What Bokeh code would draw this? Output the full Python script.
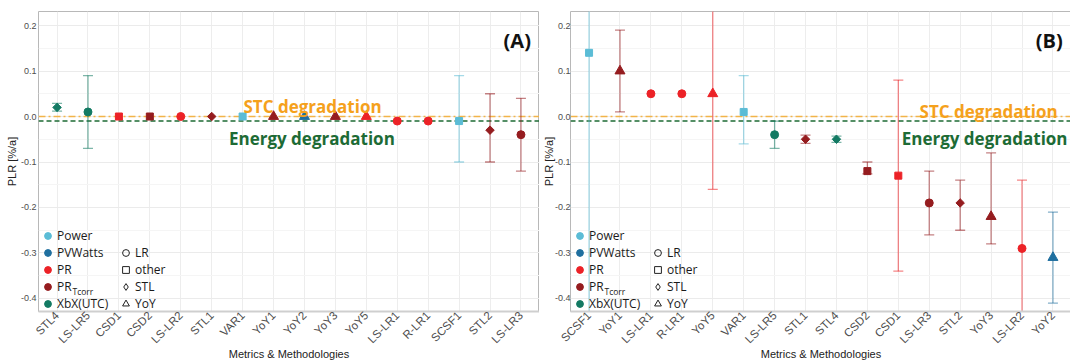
import math
from bokeh.plotting import figure
from bokeh.models import (ColumnDataSource, FactorRange, Range1d, FixedTicker,
                          PrintfTickFormatter, Span, Label, Legend, LegendItem)
from bokeh.layouts import row
from bokeh.embed import file_html
from bokeh.resources import INLINE

NAN = float("nan")

# ---------------- data: panel (A) ----------------
cats_a = ["STL4", "LS-LR5", "CSD1", "CSD2", "LS-LR2", "STL1", "VAR1", "YoY1",
          "YoY2", "YoY3", "YoY5", "LS-LR1", "R-LR1", "SCSF1", "STL2", "LS-LR3"]
metric_a = ["XbX(UTC)", "XbX(UTC)", "PR", "PR_Tcorr", "PR", "PR_Tcorr", "Power", "PR_Tcorr",
            "PVWatts", "PR_Tcorr", "PR", "PR", "PR", "Power", "PR_Tcorr", "PR_Tcorr"]
method_a = ["STL", "LR", "other", "other", "LR", "STL", "other", "YoY",
            "YoY", "YoY", "YoY", "LR", "LR", "other", "STL", "LR"]
plr_a = [0.02, 0.01, 0.0, 0.0, 0.0, 0.0, 0.0, 0.0,
         0.0, 0.0, 0.0, -0.01, -0.01, -0.01, -0.03, -0.04]
low_a = [0.012, -0.07, NAN, NAN, NAN, NAN, NAN, NAN,
         NAN, NAN, NAN, NAN, NAN, -0.10, -0.10, -0.12]
high_a = [0.029, 0.09, NAN, NAN, NAN, NAN, NAN, NAN,
          NAN, NAN, NAN, NAN, NAN, 0.09, 0.05, 0.04]

# ---------------- data: panel (B) ----------------
cats_b = ["SCSF1", "YoY1", "LS-LR1", "R-LR1", "YoY5", "VAR1", "LS-LR5", "STL1",
          "STL4", "CSD2", "CSD1", "LS-LR3", "STL2", "YoY3", "LS-LR2", "YoY2"]
metric_b = ["Power", "PR_Tcorr", "PR", "PR", "PR", "Power", "XbX(UTC)", "PR_Tcorr",
            "XbX(UTC)", "PR_Tcorr", "PR", "PR_Tcorr", "PR_Tcorr", "PR_Tcorr", "PR", "PVWatts"]
method_b = ["other", "YoY", "LR", "LR", "YoY", "other", "LR", "STL",
            "STL", "other", "other", "LR", "STL", "YoY", "LR", "YoY"]
plr_b = [0.14, 0.10, 0.05, 0.05, 0.05, 0.01, -0.04, -0.05,
         -0.05, -0.12, -0.13, -0.19, -0.19, -0.22, -0.29, -0.31]
low_b = [-0.50, 0.01, NAN, NAN, -0.16, -0.06, -0.07, -0.059,
         -0.057, -0.126, -0.34, -0.26, -0.25, -0.28, -0.44, -0.41]
high_b = [0.78, 0.19, NAN, NAN, 0.26, 0.09, -0.01, -0.041,
          -0.043, -0.10, 0.08, -0.12, -0.14, -0.08, -0.14, -0.21]

# ---------------- legend / axis definitions ----------------
metric_names = ["Power", "PVWatts", "PR", "PR_Tcorr", "XbX(UTC)"]
metric_colors = ["#5bbcd6", "#1f6f9f", "#ec2227", "#951c1f", "#137a63"]
method_names = ["LR", "other", "STL", "YoY"]
y_ticks = [-0.4, -0.3, -0.2, -0.1, 0.0, 0.1, 0.2]
y_minor = [-0.35, -0.25, -0.15, -0.05, 0.05, 0.15]
y_title = "PLR [%/a]"
x_title = "Metrics & Methodologies"
stc_level = 0.0
energy_level = -0.01

Y0, Y1 = -0.4286, 0.2308
FRAME_W, FRAME_H, TOP = 501, 300, 11
PX_X = FRAME_W / 16.2          # px per category unit
PX_Y = FRAME_H / (Y1 - Y0)     # px per PLR unit


def sx(px):      # offset from frame left (px) -> synthetic x
    return px / PX_X - 0.1


def vy(py):      # canvas y -> data y
    return Y1 - (py - TOP) / PX_Y


color_of = dict(zip(metric_names, metric_colors))
marker_of = {"LR": "circle", "other": "square", "STL": "square", "YoY": "triangle"}
size_of = {"LR": 8, "other": 7, "STL": 6, "YoY": 10}
angle_of = {"LR": 0.0, "other": 0.0, "STL": math.pi / 4, "YoY": 0.0}
legend_marker_of = {"LR": "circle", "other": "square", "STL": "diamond", "YoY": "triangle"}

TEXT_FONT = "Open Sans"
AXIS_FONT = "Liberation Sans"


def make_panel(cats, metric, method, plr, low, high, tag, stc_pos, en_pos,
               left_border, right_border, ylab_standoff, ytitle_standoff):
    colors = [color_of[m] for m in metric]
    src = ColumnDataSource(dict(
        cat=cats, plr=plr, color=colors,
        marker=[marker_of[m] for m in method],
        size=[size_of[m] for m in method],
        angle=[angle_of[m] for m in method],
    ))
    idx = [i for i in range(len(cats)) if not math.isnan(low[i])]
    esrc = ColumnDataSource(dict(
        cat=[cats[i] for i in idx], lo=[low[i] for i in idx],
        hi=[high[i] for i in idx], color=[colors[i] for i in idx],
    ))

    p = figure(x_range=FactorRange(factors=cats, range_padding=0.1,
                                   range_padding_units="absolute"),
               y_range=Range1d(Y0, Y1),
               frame_width=FRAME_W, frame_height=FRAME_H,
               min_border_left=left_border, min_border_right=right_border,
               min_border_top=TOP, min_border_bottom=51,
               output_backend="svg", toolbar_location=None,
               background_fill_color="white", border_fill_color="white")
    p.outline_line_color = "#b8b8b8"
    p.outline_line_width = 1

    # grids
    p.xgrid.grid_line_color = "#ededed"
    p.ygrid.grid_line_color = "#ebebeb"
    p.ygrid.minor_grid_line_color = "#f5f5f5"

    # y axis
    p.yaxis.ticker = FixedTicker(ticks=y_ticks, minor_ticks=y_minor)
    p.yaxis.formatter = PrintfTickFormatter(format="%.1f")
    p.yaxis.axis_line_color = None
    p.yaxis.major_tick_line_color = None
    p.yaxis.minor_tick_line_color = None
    p.yaxis.major_tick_out = 0
    p.yaxis.minor_tick_out = 0
    p.yaxis.major_label_text_font = AXIS_FONT
    p.yaxis.major_label_text_font_size = "9px"
    p.yaxis.major_label_text_color = "#4d4d4d"
    p.yaxis.major_label_standoff = ylab_standoff
    p.yaxis.axis_label = y_title
    p.yaxis.axis_label_text_font = AXIS_FONT
    p.yaxis.axis_label_text_font_style = "normal"
    p.yaxis.axis_label_text_font_size = "11px"
    p.yaxis.axis_label_text_color = "#222222"
    p.yaxis.axis_label_standoff = ytitle_standoff

    # x axis
    p.xaxis.major_label_orientation = math.pi / 4
    p.xaxis.major_label_text_font = AXIS_FONT
    p.xaxis.major_label_text_font_size = "11.5px"
    p.xaxis.major_label_text_color = "#4d4d4d"
    p.xaxis.major_label_standoff = 2
    p.xaxis.axis_line_color = "#cfcfcf"
    p.xaxis.axis_line_width = 2
    p.xaxis.major_tick_line_color = None
    p.xaxis.major_tick_in = 0
    p.xaxis.major_tick_out = 0
    p.xaxis.axis_label = x_title
    p.xaxis.axis_label_text_font = AXIS_FONT
    p.xaxis.axis_label_text_font_style = "normal"
    p.xaxis.axis_label_text_font_size = "11px"
    p.xaxis.axis_label_text_color = "#222222"
    p.xaxis.axis_label_standoff = -5

    # reference lines
    p.add_layout(Span(location=stc_level, dimension="width", line_color="#f2b449",
                      line_dash="7 3 2 3", line_width=1.6, level="underlay"))
    p.add_layout(Span(location=energy_level, dimension="width", line_color="#1e6b34",
                      line_dash="5 3", line_width=1.6, level="underlay"))

    # error bars
    p.segment(x0="cat", y0="lo", x1="cat", y1="hi", source=esrc,
              line_color="color", line_alpha=0.55, line_width=1.3)
    p.scatter(x="cat", y="lo", marker="dash", size=10, source=esrc,
              line_color="color", line_alpha=0.55, line_width=1.3)
    p.scatter(x="cat", y="hi", marker="dash", size=10, source=esrc,
              line_color="color", line_alpha=0.55, line_width=1.3)

    # points
    p.scatter(x="cat", y="plr", marker="marker", size="size", angle="angle",
              fill_color="color", line_color="color", source=src)

    # annotation texts
    p.add_layout(Label(x=stc_pos[0], y=stc_pos[1], text="STC degradation",
                       text_align="center", text_baseline="alphabetic",
                       text_font=TEXT_FONT, text_font_style="bold",
                       text_font_size="17px", text_color="#f5a11c"))
    p.add_layout(Label(x=en_pos[0], y=en_pos[1], text="Energy degradation",
                       text_align="center", text_baseline="alphabetic",
                       text_font=TEXT_FONT, text_font_style="bold",
                       text_font_size="17px", text_color="#1d6b35"))
    p.add_layout(Label(x=15.38, y=0.167, text=tag, text_align="center",
                       text_baseline="alphabetic", text_font=TEXT_FONT,
                       text_font_style="bold", text_font_size="20px",
                       text_color="#111111"))

    # legends (renderers hold a single hidden NaN point so the swatch is drawn)
    color_items = []
    for name, c in zip(metric_names, metric_colors):
        r = p.scatter(x=[cats[0]], y=[NAN], marker="circle", fill_color=c, line_color=c)
        lab = "PR" if name == "PR_Tcorr" else name
        color_items.append(LegendItem(label=lab, renderers=[r]))
    shape_items = []
    for name in method_names:
        r = p.scatter(x=[cats[0]], y=[NAN], marker=legend_marker_of[name],
                      fill_color=None, line_color="#222222", line_width=1)
        shape_items.append(LegendItem(label=name, renderers=[r]))

    common = dict(orientation="vertical", glyph_width=17, glyph_height=17,
                  label_height=17, spacing=0, padding=0, margin=0,
                  label_standoff=1, background_fill_alpha=0, border_line_alpha=0,
                  label_text_font=TEXT_FONT, label_text_font_size="12px",
                  label_text_color="#1a1a1a")
    p.add_layout(Legend(items=color_items, location=(1, -1), **common))
    p.add_layout(Legend(items=shape_items, location=(79, -1), **common))
    p.add_layout(Label(x=sx(34), y=vy(291), text="Tcorr", text_font=TEXT_FONT,
                       text_font_size="8.5px", text_color="#1a1a1a",
                       text_baseline="alphabetic", text_align="left"))
    return p


pa = make_panel(cats_a, metric_a, method_a, plr_a, low_a, high_a, "(A)",
                (8.76, 0.022), (8.74, -0.048), 38, 0, 2, 0)
pb = make_panel(cats_b, metric_b, method_b, plr_b, low_b, high_b, "(B)",
                (13.42, 0.010), (13.29, -0.048), 28, 0, 0, -3)

layout = row(pa, pb)
open("out.html", "w").write(file_html(layout, INLINE))
